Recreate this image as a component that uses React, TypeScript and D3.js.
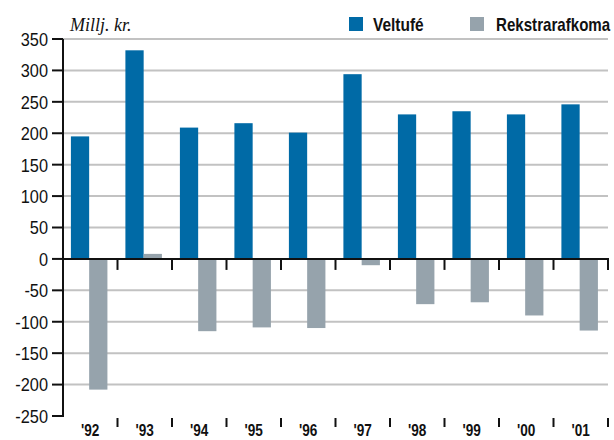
import React from "react";
import * as d3 from "d3";

const categories = ["'92", "'93", "'94", "'95", "'96", "'97", "'98", "'99", "'00", "'01"];
const veltufe = [195, 332, 209, 216, 201, 294, 230, 235, 230, 246];
const rekstrarafkoma = [-208, 8, -115, -109, -110, -10, -72, -69, -90, -114];
const yTicks = [350, 300, 250, 200, 150, 100, 50, 0, -50, -100, -150, -200, -250];
const seriesNames = ["Veltufé", "Rekstrarafkoma"];
const colors = ["#006aa6", "#96a3ac"];

const W = 614;
const H = 440;
const left = 63;
const right = 608;
const top = 39;
const bottom = 416;

const sans = "'Liberation Sans', Arial, sans-serif";

function CText(props: {
  x: number;
  y: number;
  sx: number;
  anchor?: string;
  size: number;
  bold?: boolean;
  children: React.ReactNode;
  dy?: string;
}) {
  return (
    <text
      transform={`translate(${props.x},${props.y}) scale(${props.sx},1)`}
      dy={props.dy}
      textAnchor={props.anchor || "start"}
      fontFamily={sans}
      fontWeight={props.bold ? "bold" : "normal"}
      fontSize={props.size}
      fill="#111"
    >
      {props.children}
    </text>
  );
}

export default function App() {
  const y = d3.scaleLinear().domain([-250, 350]).range([bottom, top]);
  const x = d3.scaleBand<string>().domain(categories).range([left, right]).paddingInner(0).paddingOuter(0);
  const bw = x.bandwidth();
  const sub = d3.scaleBand<string>().domain(seriesNames).range([bw * 0.145, bw * 0.815]);
  const boundaries = d3.range(categories.length + 1).map((i) => left + i * bw);
  const y0 = y(0);

  return (
    <svg width={W} height={H} style={{ position: "absolute", left: 0, top: 0, background: "#fff" }}>
      {yTicks.filter((t) => t !== 0 && t !== -250).map((t) => (
        <line key={"g" + t} x1={left} x2={right} y1={y(t)} y2={y(t)} stroke="#c2c2c2" strokeWidth={2} />
      ))}
      {categories.map((c, i) => {
        const bx = x(c)!;
        const v1 = veltufe[i];
        const v2 = rekstrarafkoma[i];
        return (
          <g key={c}>
            <rect x={bx + sub("Veltufé")!} width={sub.bandwidth()} y={y(Math.max(0, v1))} height={Math.abs(y(v1) - y0)} fill={colors[0]} />
            <rect x={bx + sub("Rekstrarafkoma")!} width={sub.bandwidth()} y={y(Math.max(0, v2))} height={Math.abs(y(v2) - y0)} fill={colors[1]} />
          </g>
        );
      })}
      <line x1={left} x2={left} y1={top} y2={bottom + 1} stroke="#111" strokeWidth={2} />
      {yTicks.map((t) => (
        <g key={"t" + t}>
          <line x1={left - 11} x2={left} y1={y(t)} y2={y(t)} stroke="#111" strokeWidth={2} />
          <CText x={left - 15} y={y(t)} dy="0.36em" sx={0.86} anchor="end" size={19}>
            {t}
          </CText>
        </g>
      ))}
      <line x1={left} x2={right + 1} y1={y0} y2={y0} stroke="#111" strokeWidth={2} />
      {boundaries.slice(1).map((bx, i) => (
        <line key={"zt" + i} x1={bx} x2={bx} y1={y0} y2={y0 + 11} stroke="#111" strokeWidth={2} />
      ))}
      {boundaries.slice(1).map((bx, i) => (
        <line key={"bt" + i} x1={bx} x2={bx} y1={418} y2={427} stroke="#111" strokeWidth={2} />
      ))}
      {categories.map((c) => (
        <CText key={"l" + c} x={x(c)! + bw / 2} y={436} sx={0.8} anchor="middle" size={17} bold>
          {c}
        </CText>
      ))}
      <text x={70} y={31} fontFamily="'Liberation Serif', 'Times New Roman', serif" fontStyle="italic" fontSize={18} fill="#111">
        Millj. kr.
      </text>
      <rect x={349} y={17} width={14} height={14} fill={colors[0]} />
      <CText x={373} y={31} sx={0.86} size={18} bold>
        Veltufé
      </CText>
      <rect x={470} y={17} width={14} height={14} fill={colors[1]} />
      <CText x={496} y={31} sx={0.84} size={18} bold>
        Rekstrarafkoma
      </CText>
    </svg>
  );
}
